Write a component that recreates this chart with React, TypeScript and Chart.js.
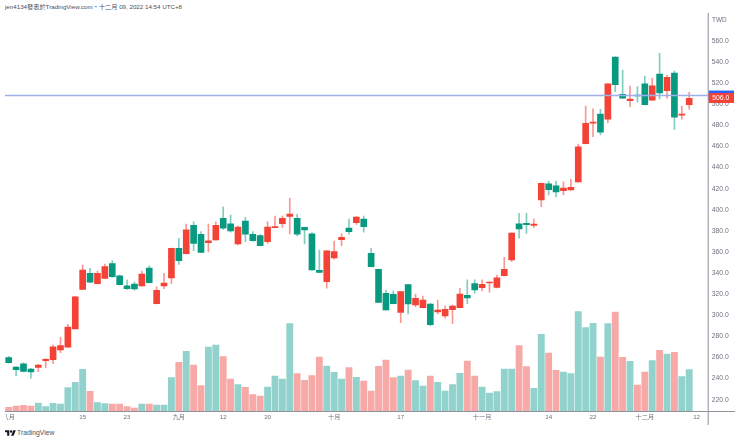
import React, { useEffect, useRef } from 'react';
import { Chart, registerables } from 'chart.js';

Chart.register(...registerables);

// oldest candle first
const opens = [
  260, 251, 254.1, 249.1, 250.7, 256.9, 257.9, 267.1, 269.9, 287, 324.6, 339.8, 330, 335, 348.9, 337.5,
  328, 329.7, 327.8, 344.8, 311, 327.8, 335.4, 363.5, 358.4, 385.3, 376.8, 368.8, 371.4, 391.9, 386.8, 367.6,
  389.4, 376.8, 375.5, 369.8, 383, 386.8, 393.8, 391.9, 383.4, 377.3, 342.6, 331.8, 354.3, 371.7, 382.7, 387.8,
  391.3, 358.8, 343.6, 320.9, 319.9, 302.8, 329, 309.8, 307.2, 310.7, 303.1, 299.3, 305.3, 307.2, 318.9, 330,
  326.2, 330.6, 326.5, 337.5, 352.4, 386.8, 387.2, 385.3, 409.3, 424.7, 422.6, 418.1, 418.8, 426.4, 462.7, 482,
  490.8, 485.8, 544.8, 509.5, 503.4, 508.8, 519.5, 503.8, 528.7, 512.9, 529.7, 489.6, 499.6,
];
const closes = [
  255, 248.4, 246.9, 246.3, 252.9, 258.2, 270, 271.2, 288.9, 317.6, 342.9, 331.3, 339.8, 346.1, 336.6, 329,
  325.2, 325, 339.1, 330.9, 323.7, 330.6, 363.5, 351.8, 380.9, 368.2, 359.7, 370.7, 385.3, 382.7, 379.9, 383.7,
  376.8, 370.7, 366, 383.7, 384, 391.9, 396, 376.8, 380.9, 342.9, 340.7, 361.2, 360.3, 373.9, 379.2, 393.2,
  384, 346.1, 312.3, 305, 311, 322.4, 310.7, 316.1, 314.5, 291.1, 305, 305.7, 308.8, 320.2, 316.4, 324,
  329.4, 331.6, 335.6, 343.6, 378, 381.8, 385.9, 386.5, 425.1, 419, 416.9, 420.7, 421.3, 459.8, 482, 483.2,
  473.5, 519.5, 518.6, 505.7, 505, 507.9, 499.6, 517.6, 510.7, 525.6, 487.7, 490.8, 505.7,
];
const highs = [
  261, 251.5, 255, 249.8, 253.5, 258.9, 271.8, 279.1, 291.5, 318, 347.7, 344.5, 342, 348.6, 351.8, 338,
  333.5, 331.6, 342, 347, 327, 339.8, 363.8, 373, 386.5, 388.7, 379.3, 386.5, 388.7, 402.9, 395, 384.5,
  392.9, 379.3, 376.5, 388.7, 394.1, 394.1, 410.9, 395.7, 383.6, 378.3, 361.9, 361.4, 370.4, 377.1, 391.3, 393.6,
  394.1, 363.5, 343.8, 324, 323, 322.6, 329.4, 320.2, 318.3, 311.3, 314.5, 309, 309.6, 325.6, 333.5, 333.5,
  333.5, 331.8, 338.2, 355, 378.2, 396.7, 396.7, 391.3, 425.3, 427, 427, 426.5, 428.9, 462.4, 498.4, 495.8,
  495.3, 519.7, 545, 532.5, 517.3, 516.7, 526.8, 524.6, 548.3, 527.5, 531.6, 498.4, 511.4,
];
const lows = [
  254.5, 242.7, 246.3, 240.3, 246.5, 250.3, 254.1, 264.6, 269.5, 287, 324.4, 331, 329.8, 334.8, 336, 328.7,
  324.6, 323.7, 327.6, 330.7, 310.8, 325.2, 330, 348.3, 358.2, 361.2, 359.3, 360, 371.2, 381.5, 378.7, 366.6,
  369.8, 370.3, 365.7, 368.2, 382.8, 383.4, 377.1, 375.2, 367.6, 342.7, 340.5, 325.6, 353.3, 366, 376.8, 386.2,
  378.7, 345.9, 312, 304.8, 310.8, 293, 301.2, 308.2, 307, 290.2, 301.2, 297.2, 292, 307, 311, 320.9,
  323, 321.8, 326, 337, 350.8, 373, 377.7, 383.4, 402.9, 414, 412.1, 414.3, 418.6, 426.2, 462.5, 469.3,
  470.9, 482.6, 512, 505.5, 497.7, 501.9, 499.4, 503.6, 505, 505.7, 476.3, 485.8, 495.3,
];
const volumes = [
  3.7, 5, 5.7, 5, 8, 4.3, 7.7, 7, 23.3, 28.7, 41.7, 19.7, 8.3, 7.3, 7, 7,
  4.3, 3, 7, 7, 6, 6, 33.3, 48.7, 59.7, 46, 25.3, 64, 66, 54.3, 32, 26.3,
  23.7, 16.3, 15, 24, 35, 32, 87.3, 37.3, 30.7, 35.3, 54, 45, 38.7, 32, 43.3, 33.7,
  30, 20, 44.7, 51, 33.3, 35, 41, 30.3, 25, 35, 28.7, 20, 26.3, 37.7, 50, 35,
  24, 18, 19.3, 42, 42, 65.3, 44.3, 22.7, 76.7, 58, 40.7, 39, 37.3, 99.3, 83.3, 87.7,
  54, 87.3, 99, 53.7, 49.7, 26, 39, 50.3, 60.7, 57, 58.7, 34.3, 41.3,
];

// 93 candles plus the two empty future slots on the right
const slotCount = 95;
const tickIndexes = [0, 10, 16, 23, 29, 35, 44, 53, 64, 73, 79, 86, 93];
const tickLabels = ['八月', '15', '23', '九月', '12', '20', '十月', '17', '十一月', '14', '22', '十二月', '12'];
const priceTicks = [220, 240, 260, 280, 300, 320, 340, 360, 380, 400, 420, 440, 460, 480, 500, 520, 540, 560];
const lastPrice = 506;
const markerPrice = 508.3;

const RED = '#f44336';
const TEAL = '#089981';
const RED_WICK = 'rgba(244,67,54,0.55)';
const TEAL_WICK = 'rgba(8,153,129,0.5)';
const RED_VOL = '#f7a9a7';
const TEAL_VOL = '#92d2cc';
const AXIS = '#8f929a';
const TEXT = '#6f7380';
const FONT = '"Liberation Sans", "Noto Sans CJK TC", sans-serif';

const noMargins = (scale: any) => {
  scale.paddingLeft = 0;
  scale.paddingRight = 0;
  scale.paddingTop = 0;
  scale.paddingBottom = 0;
};

const priceOverlay = {
  id: 'priceOverlay',
  afterDatasetsDraw(chart: any) {
    const { ctx, scales, chartArea, width, height } = chart;
    const y = scales.y;
    const axisX = chartArea.right;

    ctx.save();
    // horizontal marker line
    ctx.strokeStyle = '#9db0ea';
    ctx.lineWidth = 1.5;
    ctx.beginPath();
    ctx.moveTo(chartArea.left, y.getPixelForValue(markerPrice));
    ctx.lineTo(axisX, y.getPixelForValue(markerPrice));
    ctx.stroke();

    // axis lines run past the plot
    ctx.strokeStyle = AXIS;
    ctx.lineWidth = 1;
    ctx.beginPath();
    ctx.moveTo(axisX + 0.5, 0);
    ctx.lineTo(axisX + 0.5, height);
    ctx.moveTo(0, chartArea.bottom + 0.5);
    ctx.lineTo(width, chartArea.bottom + 0.5);
    ctx.stroke();

    // price tags
    const tagW = width - axisX - 2;
    ctx.fillStyle = '#2962ff';
    ctx.fillRect(axisX + 1, y.getPixelForValue(markerPrice) - 5, tagW, 10);
    ctx.fillStyle = RED;
    ctx.fillRect(axisX + 1, y.getPixelForValue(lastPrice) - 5, tagW, 10);
    ctx.fillStyle = '#ffffff';
    ctx.font = `6.8px ${FONT}`;
    ctx.textBaseline = 'middle';
    ctx.textAlign = 'left';
    ctx.fillText(lastPrice.toFixed(1), axisX + 4.5, y.getPixelForValue(lastPrice) + 0.5);
    ctx.restore();
  },
};

export default function App() {
  const canvasRef = useRef<HTMLCanvasElement>(null);

  useEffect(() => {
    if (!canvasRef.current) return;

    const labels = Array.from({ length: slotCount }, (_, i) => {
      const at = tickIndexes.indexOf(i);
      return at >= 0 ? tickLabels[at] : '';
    });
    const rising = opens.map((o, i) => closes[i] >= o);

    const chart = new Chart(canvasRef.current, {
      type: 'bar',
      data: {
        labels,
        datasets: [
          {
            label: 'body',
            data: opens.map((o, i) => [o, closes[i]]) as any,
            backgroundColor: rising.map(r => (r ? RED : TEAL)),
            barThickness: 6,
            yAxisID: 'y',
            order: 1,
            grouped: false,
          },
          {
            label: 'wick',
            data: lows.map((l, i) => [l, highs[i]]) as any,
            backgroundColor: rising.map(r => (r ? RED_WICK : TEAL_WICK)),
            barThickness: 1,
            yAxisID: 'y',
            order: 2,
            grouped: false,
          },
          {
            label: 'volume',
            data: volumes,
            // the volume pane keeps the opposite colouring from the candles
            backgroundColor: rising.map(r => (r ? TEAL_VOL : RED_VOL)),
            barThickness: 6.2,
            yAxisID: 'vol',
            order: 3,
            grouped: false,
          },
        ],
      },
      plugins: [priceOverlay],
      options: {
        responsive: false,
        animation: false,
        layout: { padding: 0 },
        plugins: {
          legend: { display: false },
          tooltip: { enabled: false },
        },
        scales: {
          x: {
            type: 'category',
            offset: true,
            grid: { display: false, drawTicks: false },
            border: { display: false },
            afterFit: (scale: any) => {
              scale.height = 14;
              noMargins(scale);
            },
            ticks: {
              autoSkip: false,
              maxRotation: 0,
              padding: 3,
              color: TEXT,
              font: { family: FONT, size: 6.2 },
            },
          },
          y: {
            type: 'linear',
            position: 'right',
            min: 209.28,
            max: 586.54,
            grid: { display: false, drawTicks: false },
            border: { display: false },
            afterFit: (scale: any) => {
              scale.width = 27.3;
              noMargins(scale);
            },
            afterBuildTicks: (scale: any) => {
              scale.ticks = priceTicks.map(value => ({ value }));
            },
            ticks: {
              padding: 4,
              color: TEXT,
              font: { family: FONT, size: 6.8 },
              callback: (v: any) => Number(v).toFixed(1),
            },
          },
          vol: {
            type: 'linear',
            display: false,
            min: 0,
            max: 398,
          },
        },
      },
    });

    return () => chart.destroy();
  }, []);

  return (
    <div style={{ position: 'absolute', left: 0, top: 0, width: 740, height: 442, background: '#fff', overflow: 'hidden', fontFamily: FONT }}>
      <div style={{ position: 'absolute', left: 5, top: 2, fontSize: 6.2, lineHeight: '10px', color: '#4a4e59', whiteSpace: 'nowrap' }}>
        jen4134發表於TradingView.com・十二月 09, 2022 14:54 UTC+8
      </div>
      <canvas ref={canvasRef} width={730} height={412} style={{ position: 'absolute', left: 5, top: 13, display: 'block' }} />
      <div style={{ position: 'absolute', left: 712, top: 15, fontSize: 6.4, lineHeight: '9px', color: TEXT }}>TWD</div>
      <svg viewBox="0 0 36 28" width="11" height="8.5" style={{ position: 'absolute', left: 5, top: 429 }}>
        <path d="M14 22H7V11H0V4h14v18zM28 22h-8l7.5-18h8L28 22z" fill="#131722" />
        <circle cx="20" cy="8" r="4" fill="#131722" />
      </svg>
      <div style={{ position: 'absolute', left: 17, top: 428, fontSize: 6.8, lineHeight: '10px', color: '#50535e' }}>TradingView</div>
    </div>
  );
}
